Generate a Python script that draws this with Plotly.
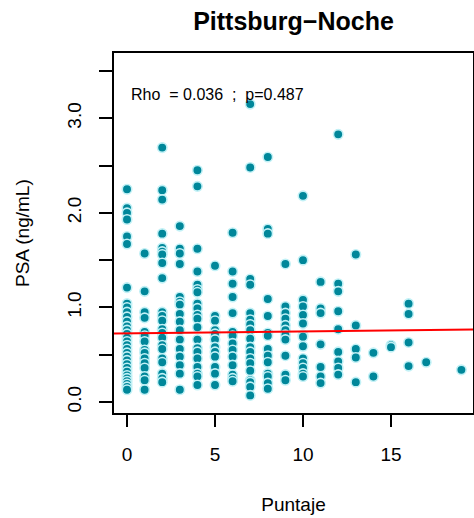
import plotly.graph_objects as go

# Data (Puntaje -> PSA values)
psa_by_score = {
    0: [2.25, 2.05, 2.00, 1.93, 1.75, 1.67, 1.21, 1.04, 1.00, 0.95, 0.90, 0.85, 0.80, 0.76,
        0.72, 0.68, 0.64, 0.60, 0.56, 0.52, 0.48, 0.44, 0.40, 0.36, 0.32, 0.28, 0.25, 0.22,
        0.19, 0.16, 0.13],
    1: [1.57, 1.17, 0.95, 0.89, 0.74, 0.70, 0.64, 0.55, 0.52, 0.46, 0.41, 0.36, 0.27, 0.23, 0.13],
    2: [2.69, 2.24, 2.14, 1.78, 1.63, 1.59, 1.56, 1.47, 1.31, 0.95, 0.91, 0.86, 0.77, 0.73,
        0.68, 0.60, 0.56, 0.46, 0.42, 0.30, 0.25, 0.21],
    3: [1.86, 1.62, 1.57, 1.46, 1.11, 1.06, 1.03, 0.93, 0.85, 0.76, 0.66, 0.56, 0.48, 0.39,
        0.30, 0.13],
    4: [2.45, 2.28, 1.62, 1.38, 1.24, 1.19, 1.16, 1.04, 0.99, 0.92, 0.88, 0.79, 0.66, 0.57,
        0.53, 0.46, 0.37, 0.30, 0.27, 0.18],
    5: [1.44, 0.91, 0.86, 0.76, 0.72, 0.66, 0.58, 0.53, 0.48, 0.37, 0.30, 0.18],
    6: [1.79, 1.38, 1.25, 1.11, 0.94, 0.74, 0.70, 0.62, 0.55, 0.48, 0.39, 0.29, 0.25, 0.22],
    7: [3.15, 2.48, 1.30, 1.24, 0.94, 0.87, 0.82, 0.76, 0.67, 0.58, 0.53, 0.46, 0.41, 0.33,
        0.23, 0.21, 0.16, 0.07],
    8: [2.59, 1.83, 1.78, 1.09, 0.91, 0.73, 0.70, 0.56, 0.49, 0.42, 0.30, 0.27, 0.20, 0.14],
    9: [1.46, 1.01, 0.94, 0.88, 0.81, 0.76, 0.71, 0.66, 0.49, 0.29, 0.23],
    10: [2.18, 1.50, 1.08, 1.01, 0.92, 0.83, 0.71, 0.69, 0.59, 0.46, 0.41, 0.36, 0.30, 0.27],
    11: [1.27, 0.99, 0.94, 0.61, 0.37, 0.27, 0.20],
    12: [2.83, 1.25, 1.17, 0.96, 0.77, 0.53, 0.43, 0.36, 0.29],
    13: [1.56, 0.81, 0.56, 0.47, 0.21],
    14: [0.52, 0.27],
    15: [0.60, 0.58],
    16: [1.04, 0.93, 0.63, 0.38],
    17: [0.42],
    19: [0.34],
}

fit_intercept = 0.726
fit_slope = 0.0021
line_x = [-0.75, 19.7]

title_text = "<b>Pittsburg\u2212Noche</b>"
x_title = "Puntaje"
y_title = "PSA (ng/mL)"
annot_text = "Rho\u00a0\u00a0= 0.036\u00a0\u00a0;\u00a0\u00a0p=0.487"

x_tickvals = [0, 5, 10, 15]
y_tickvals = [0, 0.5, 1.0, 1.5, 2.0, 2.5, 3.0, 3.5]
y_ticktext = ["0.0", "", "1.0", "", "2.0", "", "3.0", ""]

xs, ys = [], []
for k, vals in psa_by_score.items():
    for v in vals:
        xs.append(k)
        ys.append(v)

FONT = "Liberation Sans, Arial, Helvetica, sans-serif"
W, H = 474, 518
ML, MR, MT, MB = 114, 1, 53, 105
PW = W - ML - MR

fig = go.Figure()
fig.add_trace(go.Scatter(
    x=xs, y=ys, mode="markers",
    marker=dict(size=9.5, color="#00879A", line=dict(color="#C2F1F6", width=1.6)),
    showlegend=False, hoverinfo="skip",
))
fig.add_trace(go.Scatter(
    x=line_x, y=[fit_intercept + fit_slope * x for x in line_x],
    mode="lines", line=dict(color="#FF0000", width=2),
    showlegend=False, hoverinfo="skip",
))

fig.add_annotation(x=5.14, y=3.25, xref="x", yref="y", text=annot_text,
                   showarrow=False, font=dict(family=FONT, size=16, color="black"))

# y-axis title placed as rotated text
fig.add_annotation(x=(22 - ML) / PW, y=0.5, xref="paper", yref="paper",
                   xanchor="center", yanchor="middle", textangle=-90,
                   text=y_title, showarrow=False,
                   font=dict(family=FONT, size=19, color="black"))

fig.update_layout(
    width=W, height=H,
    margin=dict(l=ML, r=MR, t=MT, b=MB),
    paper_bgcolor="white", plot_bgcolor="white",
    font=dict(family=FONT, color="black"),
    title=dict(text=title_text, x=0.5, xanchor="center", xref="paper",
               y=1 - 21 / H, yanchor="middle", yref="container",
               font=dict(family=FONT, size=25, color="black")),
)
fig.update_xaxes(
    range=[-0.74, 19.66], tickvals=x_tickvals, ticktext=[str(v) for v in x_tickvals],
    ticks="outside", ticklen=12, tickwidth=1.5, tickcolor="black",
    showline=True, linecolor="black", linewidth=1.5, mirror=True,
    showgrid=False, zeroline=False, automargin=False,
    tickfont=dict(family=FONT, size=19, color="black"),
    ticklabelstandoff=11,
    title=dict(text=x_title, font=dict(family=FONT, size=19, color="black"), standoff=34),
)
fig.update_yaxes(
    range=[-0.116, 3.69], tickvals=y_tickvals, ticktext=y_ticktext,
    ticks="outside", ticklen=13, tickwidth=1.5, tickcolor="black",
    showline=True, linecolor="black", linewidth=1.5, mirror=True,
    showgrid=False, zeroline=False, tickangle=-90, automargin=False,
    tickfont=dict(family=FONT, size=19, color="black"),
    ticklabelstandoff=11,
)

fig.write_html("out.html")
